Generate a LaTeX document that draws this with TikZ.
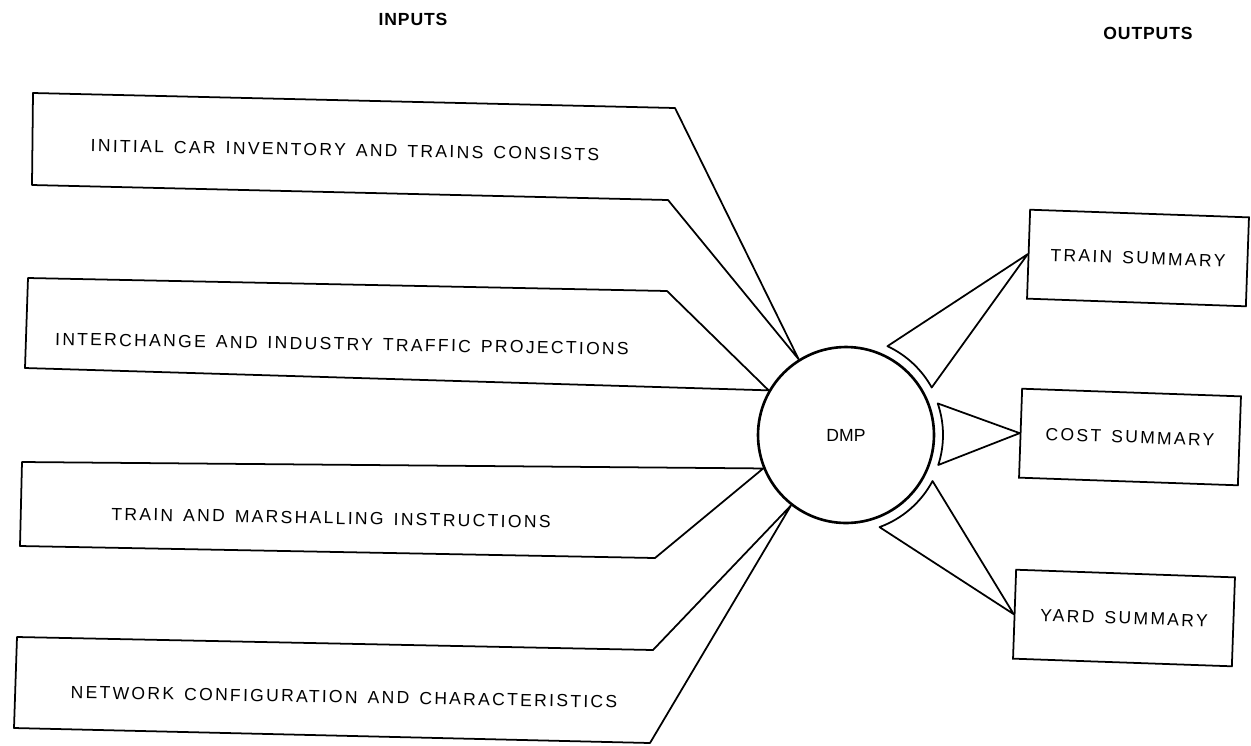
\documentclass[tikz,border=0pt]{standalone}
\usepackage{fontspec}
\setmainfont{Liberation Sans}
\newfontfamily\boxfont{Liberation Sans}[LetterSpace=13 , WordSpace=1.4]
\newfontfamily\headfont{Liberation Sans}[LetterSpace=5]

\tikzset{
    inshape/.style = {draw , line width = 1pt , line join = round},
    intext/.style = {font = \boxfont\fontsize{10}{12}\selectfont , rotate = -1},
    outbox/.style = {draw , line width = 1pt , rotate = -2 , minimum width = 4.38cm , minimum height = 1.78cm , font = \boxfont\fontsize{10}{12}\selectfont},
    funnel/.style = {draw , line width = 1pt , line join = round},
    head/.style = {font = \headfont\bfseries\fontsize{10}{12}\selectfont}
}

\begin{document}
\begin{tikzpicture}[x = 0.02cm , y = 0.02cm]
    \useasboundingbox (0,0) rectangle (1251,-745);
    \node[head] (inputs) at (413,-19) {INPUTS};
    \node[head] (outputs) at (1148,-33) {OUTPUTS};
    \node[circle , draw , line width = 1.5pt , minimum size = 3.52cm , inner sep = 0pt , font = \fontsize{10}{12}\selectfont] (dmp) at (846,-435) {DMP}; % Κύκλος

    % Είσοδοι
    \draw[inshape] (33,-93) -- (675,-108) -- (dmp.122) -- (668,-200) -- (32,-185) -- cycle;
    \node[intext] (inventory) at (345,-150) {INITIAL CAR INVENTORY AND TRAINS CONSISTS};
    \draw[inshape] (28,-278) -- (667,-291) -- (dmp.150) -- (25,-368) -- cycle;
    \node[intext] (traffic) at (342,-344) {INTERCHANGE AND INDUSTRY TRAFFIC PROJECTIONS};
    \draw[inshape] (22,-462) -- (dmp.202) -- (655,-558) -- (20,-546) -- cycle;
    \node[intext] (marshal) at (331,-518) {TRAIN AND MARSHALLING INSTRUCTIONS};
    \draw[inshape] (17,-637) -- (653,-650) -- (dmp.232) -- (650,-743) -- (14,-728) -- cycle;
    \node[intext] (network) at (344,-697) {NETWORK CONFIGURATION AND CHARACTERISTICS};

    % Έξοδοι
    \node[outbox] (train) at (1138,-258) {TRAIN SUMMARY};
    \node[outbox] (cost) at (1130,-437) {COST SUMMARY};
    \node[outbox] (yard) at (1124,-618) {YARD SUMMARY};
    \draw[funnel] (train.west) -- ([shift = {(65:98)}] dmp.center) arc[start angle = 65 , end angle = 29 , radius = 98] -- cycle;
    \draw[funnel] (cost.west) -- ([shift = {(19:97)}] dmp.center) arc[start angle = 19 , end angle = -18 , radius = 97] -- cycle;
    \draw[funnel] (yard.west) -- ([shift = {(-28:98)}] dmp.center) arc[start angle = -28 , end angle = -70 , radius = 98] -- cycle;
\end{tikzpicture}
\end{document}
